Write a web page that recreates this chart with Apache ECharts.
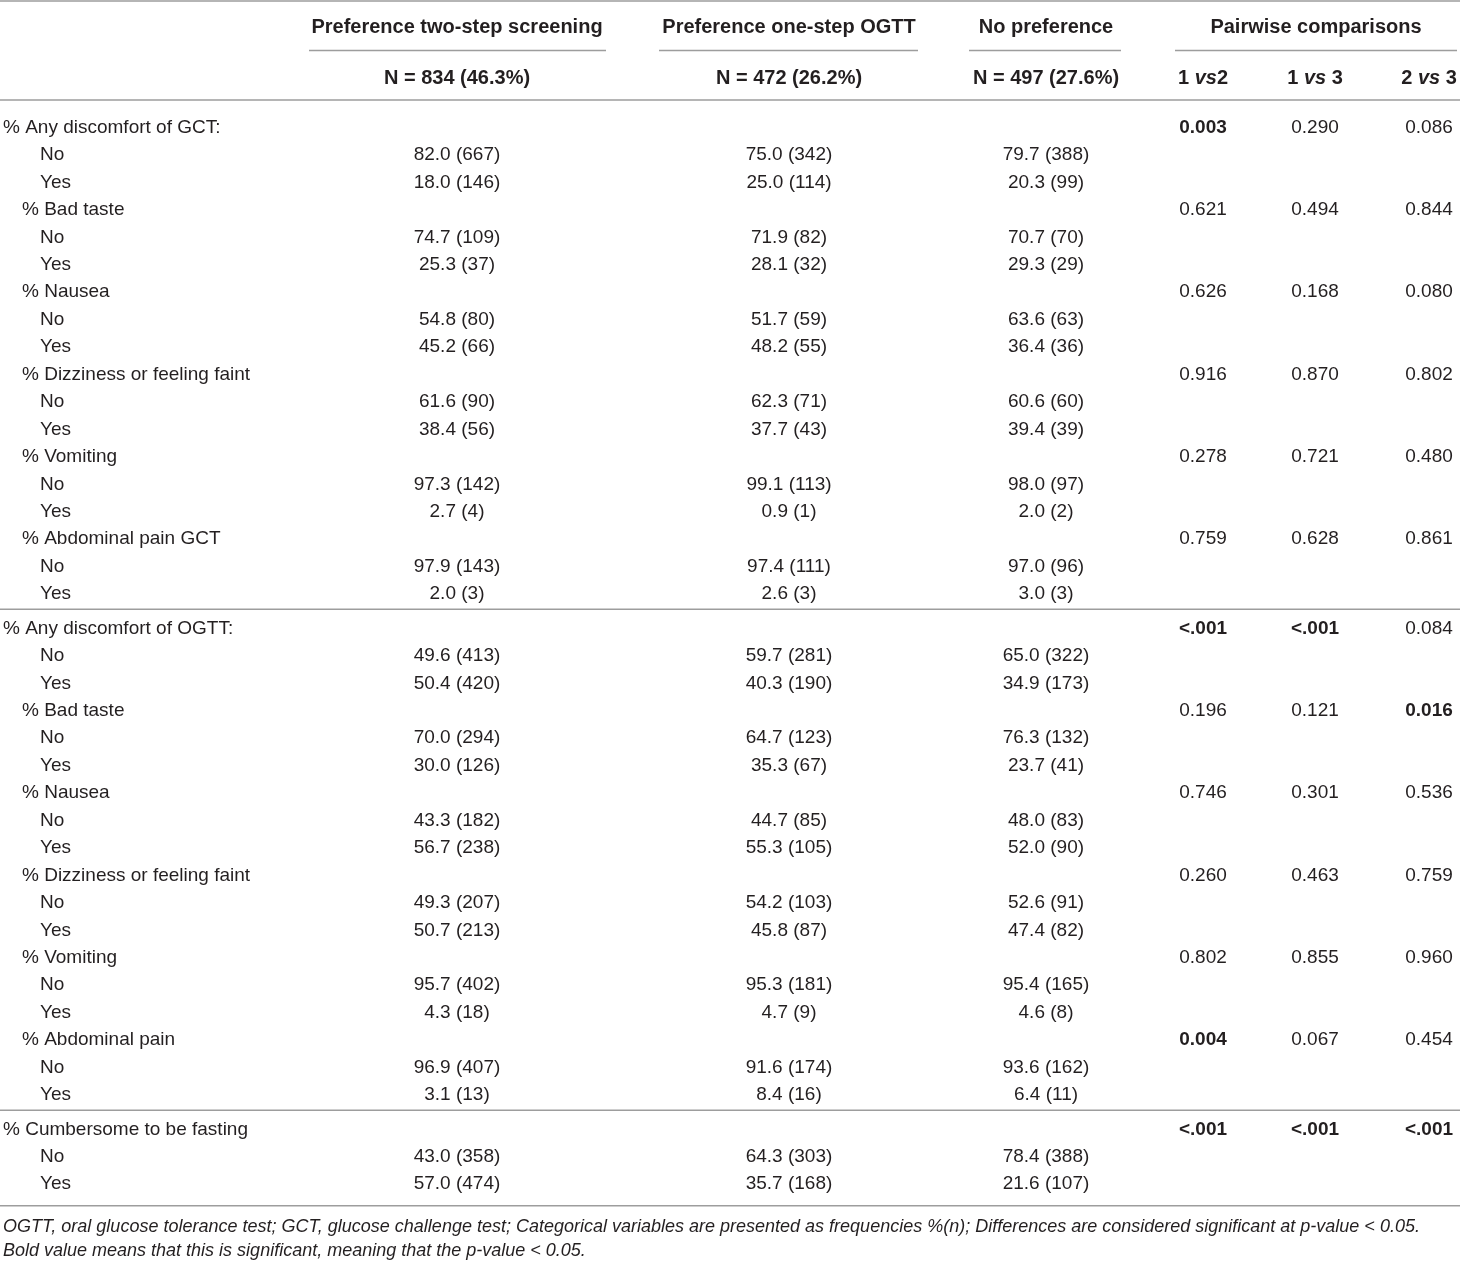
<!DOCTYPE html>
<html>
<head>
<meta charset="utf-8">
<title>Discomfort by screening preference</title>
<script src="https://cdn.jsdelivr.net/npm/echarts@6/dist/echarts.min.js"></script>
<style>
  html, body { margin: 0; padding: 0; background: #fff; }
  #main { width: 1460px; height: 1262px; }
</style>
</head>
<body>
<div id="main"></div>
<script>
// table content
var groupHeaders = ['Preference two-step screening', 'Preference one-step OGTT', 'No preference', 'Pairwise comparisons'];
var groupN = ['N = 834 (46.3%)', 'N = 472 (26.2%)', 'N = 497 (27.6%)'];
var pairHeaders = [['1 ', 'vs', '2'], ['1 ', 'vs', ' 3'], ['2 ', 'vs', ' 3']];

// 0 = section, 1 = sub item, 2 = answer
var rowLabels = [
    '% Any discomfort of GCT:', 'No', 'Yes',
    '% Bad taste', 'No', 'Yes',
    '% Nausea', 'No', 'Yes',
    '% Dizziness or feeling faint', 'No', 'Yes',
    '% Vomiting', 'No', 'Yes',
    '% Abdominal pain GCT', 'No', 'Yes',
    '% Any discomfort of OGTT:', 'No', 'Yes',
    '% Bad taste', 'No', 'Yes',
    '% Nausea', 'No', 'Yes',
    '% Dizziness or feeling faint', 'No', 'Yes',
    '% Vomiting', 'No', 'Yes',
    '% Abdominal pain', 'No', 'Yes',
    '% Cumbersome to be fasting', 'No', 'Yes'
];
var rowLevels = [
    0, 2, 2, 1, 2, 2, 1, 2, 2, 1, 2, 2, 1, 2, 2, 1, 2, 2,
    0, 2, 2, 1, 2, 2, 1, 2, 2, 1, 2, 2, 1, 2, 2, 1, 2, 2,
    0, 2, 2
];
var sectionStarts = [0, 18, 36];

var twoStep = [
    '', '82.0 (667)', '18.0 (146)', '', '74.7 (109)', '25.3 (37)', '', '54.8 (80)', '45.2 (66)',
    '', '61.6 (90)', '38.4 (56)', '', '97.3 (142)', '2.7 (4)', '', '97.9 (143)', '2.0 (3)',
    '', '49.6 (413)', '50.4 (420)', '', '70.0 (294)', '30.0 (126)', '', '43.3 (182)', '56.7 (238)',
    '', '49.3 (207)', '50.7 (213)', '', '95.7 (402)', '4.3 (18)', '', '96.9 (407)', '3.1 (13)',
    '', '43.0 (358)', '57.0 (474)'
];
var oneStep = [
    '', '75.0 (342)', '25.0 (114)', '', '71.9 (82)', '28.1 (32)', '', '51.7 (59)', '48.2 (55)',
    '', '62.3 (71)', '37.7 (43)', '', '99.1 (113)', '0.9 (1)', '', '97.4 (111)', '2.6 (3)',
    '', '59.7 (281)', '40.3 (190)', '', '64.7 (123)', '35.3 (67)', '', '44.7 (85)', '55.3 (105)',
    '', '54.2 (103)', '45.8 (87)', '', '95.3 (181)', '4.7 (9)', '', '91.6 (174)', '8.4 (16)',
    '', '64.3 (303)', '35.7 (168)'
];
var noPref = [
    '', '79.7 (388)', '20.3 (99)', '', '70.7 (70)', '29.3 (29)', '', '63.6 (63)', '36.4 (36)',
    '', '60.6 (60)', '39.4 (39)', '', '98.0 (97)', '2.0 (2)', '', '97.0 (96)', '3.0 (3)',
    '', '65.0 (322)', '34.9 (173)', '', '76.3 (132)', '23.7 (41)', '', '48.0 (83)', '52.0 (90)',
    '', '52.6 (91)', '47.4 (82)', '', '95.4 (165)', '4.6 (8)', '', '93.6 (162)', '6.4 (11)',
    '', '78.4 (388)', '21.6 (107)'
];
// p-values, only on the heading rows
var p1vs2 = ['0.003', '0.621', '0.626', '0.916', '0.278', '0.759',
             '<.001', '0.196', '0.746', '0.260', '0.802', '0.004', '<.001'];
var p1vs3 = ['0.290', '0.494', '0.168', '0.870', '0.721', '0.628',
             '<.001', '0.121', '0.301', '0.463', '0.855', '0.067', '<.001'];
var p2vs3 = ['0.086', '0.844', '0.080', '0.802', '0.480', '0.861',
             '0.084', '0.016', '0.536', '0.759', '0.960', '0.454', '<.001'];

var footnote = [
    'OGTT, oral glucose tolerance test; GCT, glucose challenge test; Categorical variables are presented as frequencies %(n); Differences are considered significant at p-value < 0.05.',
    'Bold value means that this is significant, meaning that the p-value < 0.05.'
];

// layout (pixels)
var W = 1460, H = 1262;
var FONT = '"Liberation Sans", Arial, Helvetica, sans-serif';
var TXT = '#231f20';
var RULE = '#9d9d9d';
var labelIndent = [3, 22, 40];
var dataCols = [457, 789, 1046];
var pCols = [1203, 1315, 1429];
var headCenters = [457, 789, 1046, 1316];
var underlines = [[309, 606], [659, 918], [969, 1121], [1175, 1457]];
var headY1 = 27, underY = 50.5, headY2 = 78, headRule = 100;
var rowTop = 127.5, rowStep = 27.45, sectionGap = 6.8;

function sectionOf(i) {
    var s = 0;
    for (var k = 0; k < sectionStarts.length; k++) {
        if (i >= sectionStarts[k]) s = k;
    }
    return s;
}
function rowY(i) {
    return rowTop + i * rowStep + sectionOf(i) * sectionGap;
}
function isSig(v) {
    return v === '<.001' || parseFloat(v) < 0.05;
}

// build text cells
var cells = [];
groupHeaders.forEach(function (t, k) {
    cells.push({x: headCenters[k], y: headY1, text: t, bold: true, size: 20, align: 'center'});
});
groupN.forEach(function (t, k) {
    cells.push({x: dataCols[k], y: headY2, text: t, bold: true, size: 20, align: 'center'});
});
pairHeaders.forEach(function (t, k) {
    cells.push({x: pCols[k], y: headY2, rich: t, align: 'center'});
});

var headingIdx = 0;
rowLabels.forEach(function (lab, i) {
    var y = rowY(i);
    cells.push({x: labelIndent[rowLevels[i]], y: y, text: lab, align: 'left'});
    [twoStep, oneStep, noPref].forEach(function (arr, k) {
        if (arr[i]) cells.push({x: dataCols[k], y: y, text: arr[i], align: 'center'});
    });
    if (rowLevels[i] < 2) {
        [p1vs2, p1vs3, p2vs3].forEach(function (arr, k) {
            var v = arr[headingIdx];
            cells.push({x: pCols[k], y: y, text: v, bold: isSig(v), align: 'center'});
        });
        headingIdx++;
    }
});

// horizontal rules [x1, y, x2]
var lastRow = rowLabels.length - 1;
var rules = [[0, 1, W], [0, headRule, W]];
underlines.forEach(function (u) { rules.push([u[0], underY, u[1]]); });
for (var s = 1; s < sectionStarts.length; s++) {
    rules.push([0, (rowY(sectionStarts[s] - 1) + rowY(sectionStarts[s])) / 2 - 2, W]);
}
var bottomRule = rowY(lastRow) + 21.5;
rules.push([0, bottomRule, W]);

var myChart = echarts.init(document.getElementById('main'), null, {renderer: 'canvas'});

var option = {
    animation: false,
    backgroundColor: '#ffffff',
    title: {
        text: footnote.join('\n'),
        left: 3,
        top: bottomRule + 9,
        padding: 0,
        textStyle: {
            fontFamily: FONT,
            fontStyle: 'italic',
            fontWeight: 'normal',
            fontSize: 18,
            lineHeight: 24,
            color: TXT
        }
    },
    grid: {left: 0, right: 0, top: 0, bottom: 0},
    xAxis: {type: 'value', min: 0, max: W, show: false},
    yAxis: {type: 'value', min: 0, max: H, inverse: true, show: false},
    series: [
        {
            type: 'custom',
            silent: true,
            data: rules,
            renderItem: function (params, api) {
                var a = api.coord([api.value(0), api.value(1)]);
                var b = api.coord([api.value(2), api.value(1)]);
                return {
                    type: 'line',
                    shape: {x1: a[0], y1: a[1], x2: b[0], y2: b[1]},
                    style: {stroke: RULE, lineWidth: 1.6}
                };
            }
        },
        {
            type: 'custom',
            silent: true,
            data: cells.map(function (c) { return [c.x, c.y]; }),
            renderItem: function (params, api) {
                var c = cells[params.dataIndex];
                var p = api.coord([api.value(0), api.value(1)]);
                var style = {
                    x: p[0], y: p[1],
                    align: c.align,
                    verticalAlign: 'middle',
                    fill: TXT,
                    fontFamily: FONT,
                    fontSize: c.size || 19,
                    fontWeight: c.bold ? 'bold' : 'normal'
                };
                if (c.rich) {
                    style.text = '{b|' + c.rich[0] + '}{bi|' + c.rich[1] + '}{b|' + c.rich[2] + '}';
                    style.rich = {
                        b: {fontFamily: FONT, fontSize: 20, fontWeight: 'bold', fill: TXT},
                        bi: {fontFamily: FONT, fontSize: 20, fontWeight: 'bold', fontStyle: 'italic', fill: TXT}
                    };
                } else {
                    style.text = c.text;
                }
                return {type: 'text', style: style};
            }
        }
    ]
};

myChart.setOption(option);
</script>
</body>
</html>
